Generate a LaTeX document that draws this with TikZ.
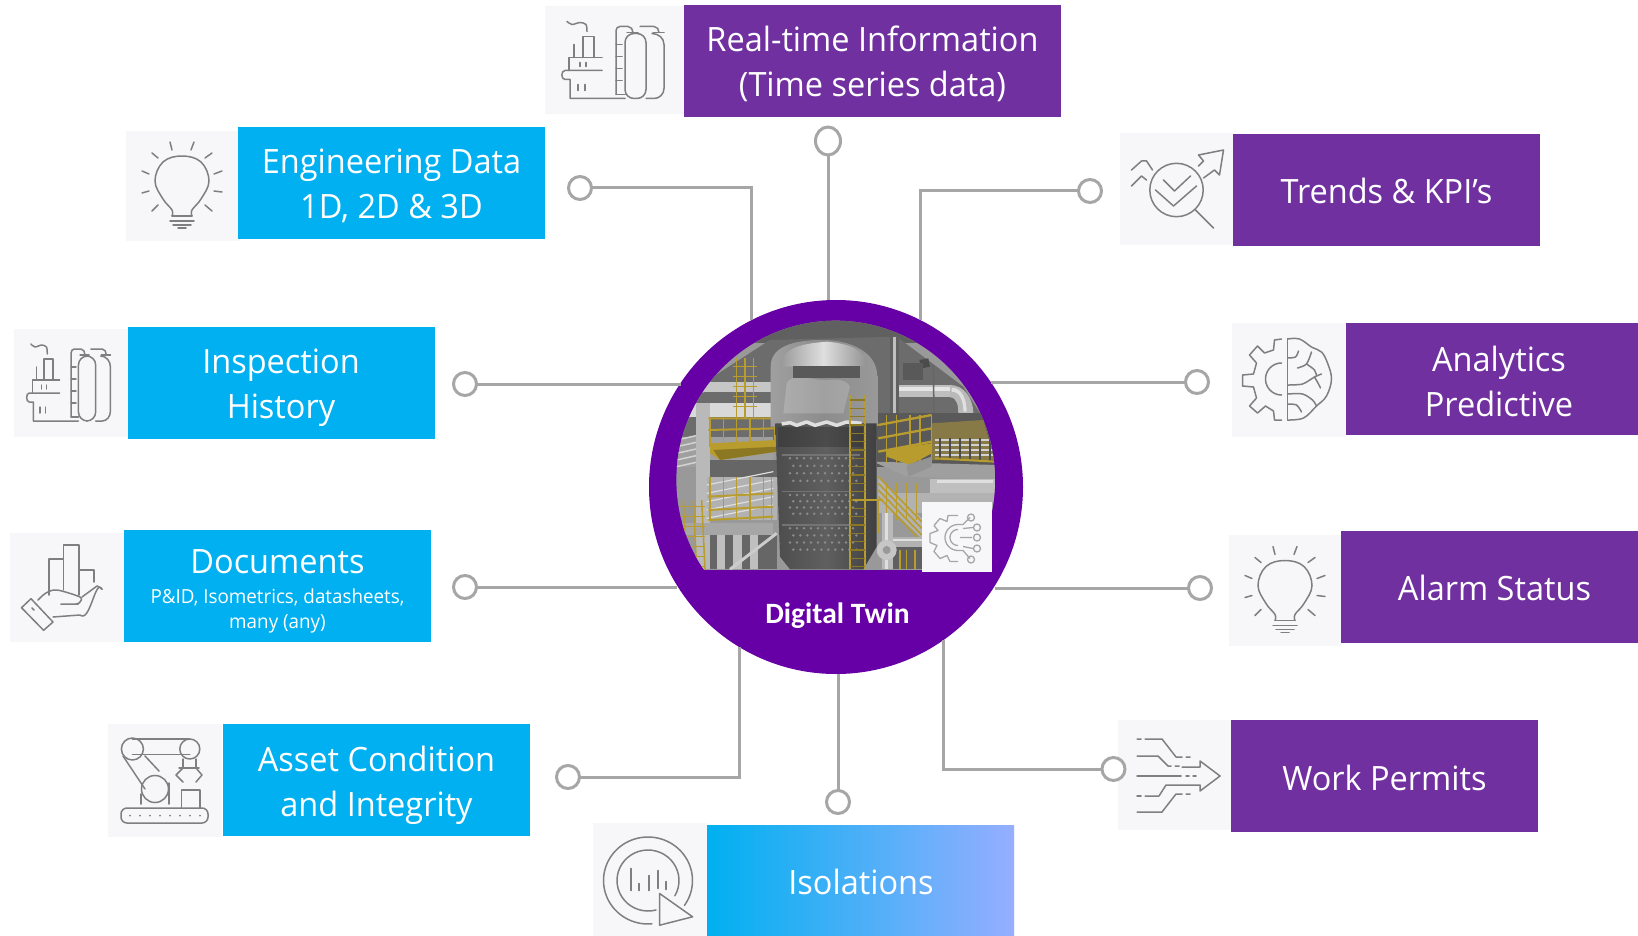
\documentclass[tikz,border=0pt]{standalone}
\usepackage{fontspec}
\usetikzlibrary{shapes.geometric}
\setmainfont{Open Sans}
\newfontfamily\boxfont[FakeStretch=0.97]{Open Sans}
\newfontfamily\capfont{Carlito}
\definecolor{cblue}{HTML}{00B0F0}
\definecolor{cblueend}{HTML}{96AEFF}
\definecolor{cpurple}{HTML}{7030A0}
\definecolor{chub}{HTML}{6600A6}
\definecolor{cicon}{HTML}{F7F7F9}
\definecolor{cline}{HTML}{A6A6A6}
\definecolor{cink}{HTML}{7F7F7F}
\definecolor{cyel}{HTML}{B89C2E}
\definecolor{cyeld}{HTML}{8C7722}
\tikzset{
  bigtext/.style={font=\boxfont\fontsize{33.5}{45}\selectfont,text=white,inner sep=0pt,align=center},
  box/.style={rectangle,inner sep=0pt,outer sep=0pt},
  bluebox/.style={box,fill=cblue},
  purplebox/.style={box,fill=cpurple},
  iconbg/.style={rectangle,inner sep=0pt,outer sep=0pt,fill=cicon},
  pin/.style={circle,draw=cline,line width=3pt,fill=white,minimum size=23pt,inner sep=0pt,outer sep=0pt},
  wire/.style={draw=cline,line width=3pt},
  ico/.style={draw=cink,line width=1.5pt,line join=round,line cap=round},
  lamp/.pic={
    \draw[ico] plot[smooth,tension=0.65] coordinates {(-10,30)(-10,24)(-19,13)(-27,-5)(-19,-24)(0,-30)(19,-24)(27,-5)(19,13)(10,24)(10,30)};
    \draw[ico] (-10,30)--(10,30) (-12,35)--(12,35) (-9,39)--(9,39) (-4,42)--(4,42);
    \draw[ico] (-12,-44)--(-10,-36) (12,-44)--(9,-36) (-30,-33)--(-24,-28) (30,-33)--(23,-28)
      (-40,-15)--(-33,-12) (40,-15)--(32,-12) (-40,7)--(-33,5) (40,6)--(32,5)
      (-30,25)--(-24,19) (30,25)--(23,19);
  },
  plant/.pic={
    \draw[ico] plot[smooth] coordinates {(-55,-39)(-50,-36)(-42,-38)(-36,-36)(-35,-29)};
    \draw[ico] (-39,-3)--(-39,-24)--(-28,-24)--(-28,-3);
    \draw[ico] (-48,-3)--(-48,-16);
    \draw[ico] (-53,10)--(-53,-3)--(-20,-3);
    \draw[ico] (-20,10)--(-57,10) to[out=180,in=180,looseness=1.2] (-57,19)--(-52,19)--(-52,38)--(3,38);
    \draw[ico] (-6,34)--(-6,-30) to[out=90,in=180] (-2,-34)--(6,-34) to[out=0,in=90] (11,-28);
    \draw[ico] (5,-28)--(16,-28);
    \draw[ico] (-6,-16)--(0,-16) (-6,-4)--(0,-4) (-6,8)--(0,8) (-6,20)--(0,20) (-6,34)--(3,34);
    \draw[ico,rounded corners=9pt] (3,38) rectangle (24,-27);
    \draw[ico] (30,-27) to[out=0,in=90] (42,-16)--(42,28) to[out=-90,in=0] (32,38)--(24,38);
    \draw[ico] (18,-34)--(32,-34) to[out=0,in=90] (37,-28);
    \draw[ico] (31,-28)--(42,-28);
    \draw[ico] (-42,2)--(-42,6) (-36,2)--(-36,6) (-44,24)--(-44,30) (-37,24)--(-37,30);
  },
  trendicon/.pic={
    \draw[ico] (0,1) circle[radius=26.7pt];
    \draw[ico] (19,21)--(37,39);
    \draw[ico] (-13,-9)--(-2,2)--(14,-13);
    \draw[ico] (-21,1)--(-3,17)--(20,-3);
    \draw[ico] (-45,-19)--(-35,-28)--(-30,-28)--(-24,-19);
    \draw[ico] (-45,-3)--(-35,-13)--(-30,-9);
    \draw[ico] (27,-11)--(38,-19)--(43,-14)--(47,-39)--(22,-34)--(27,-28)--(22,-23);
  },
  brainicon/.pic={
    \draw[ico] (-1,-41)--(-1,40);
    \draw[ico] (-7,-41)--(-14,-40)--(-15,-30)--(-24,-27)--(-31,-34)--(-39,-25)--(-32,-17)--(-35,-6)--(-46,-5)--(-46,6)--(-35,7)--(-32,18)--(-39,26)--(-31,33)--(-23,26)--(-15,31)--(-14,40)--(-7,40);
    \draw[ico] plot[smooth,domain=90:270,samples=20,variable=\t] ({-7+16*cos(\t)},{-1-16*sin(\t)});
    \draw[ico] plot[smooth,tension=0.6] coordinates {(-1,-41)(11,-41)(23,-33)(33,-28)(39,-17)(43,-1)(38,16)(28,26)(15,38)(-1,40)};
    \draw[ico] plot[smooth] coordinates {(-1,-22)(7,-23)(10,-29)};
    \draw[ico] plot[smooth] coordinates {(9,-12)(18,-16)(23,-28)};
    \draw[ico] plot[smooth] coordinates {(18,-16)(26,-10)(28,-4)};
    \draw[ico] plot[smooth] coordinates {(-1,5)(14,4)(26,-3)(33,-6)};
    \draw[ico] plot[smooth] coordinates {(26,-3)(30,4)(32,8)};
    \draw[ico] plot[smooth] coordinates {(-1,14)(14,14)(24,20)(28,26)};
    \draw[ico] plot[smooth] coordinates {(-1,24)(8,25)(13,32)};
  },
  flowicon/.pic={
    \draw[ico] (-37,-36)--(-33,-36) (-29,-36)--(-12,-36)--(2,-18)--(8,-18) (12,-18)--(16,-18);
    \draw[ico] (-37,-19)--(-16,-19)--(-6,-9)--(-3,-9) (1,-9)--(5,-9);
    \draw[ico] (8,-8)--(26,-8)--(26,-14)--(46,1)--(26,16)--(26,10)--(-8,10)--(-15,21)--(-29,21);
    \draw[ico] (-37,21)--(-33,21);
    \draw[ico] (-37,1)--(7,1) (12,1)--(15,1) (19,1)--(22,1);
    \draw[ico] (-37,37)--(-12,37)--(2,19)--(8,19) (12,19)--(16,19);
  },
  handicon/.pic={
    \draw[ico] (-18,8)--(-18,-28)--(-3.7,-28)--(-3.7,3);
    \draw[ico] (-3.7,-28)--(-3.7,-42)--(12,-42)--(12,8);
    \draw[ico] (12,-17)--(27,-17)--(27,-5);
    \draw[ico] (-45.5,20.7)--(-36,11.7)--(-14,35)--(-23.4,43.3)--cycle;
    \draw[ico] (-35,21)--(-33,23);
    \draw[ico] plot[smooth,tension=0.5] coordinates {(-29,13)(-21,6)(-10,3)(13,10)(13,15)(9,17)(-6,17)};
    \draw[ico] (-6,17.5)--(11,17.5);
    \draw[ico] (-14,30)--(13,28) to[out=-40,in=120] (35,2) to[out=-60,in=0] (30,-1)--(15,10);
  },
  roboticon/.pic={
    \draw[ico] (-32.6,-31) circle[radius=11pt];
    \draw[ico] (24.8,-31) circle[radius=10pt];
    \draw[ico] (-32.6,-41)--(24.8,-41) (-32.6,-25.7)--(24.8,-25.7);
    \draw[ico] (-42,-24)--(-20,9) (-20,-24)--(-6,-9);
    \draw[ico] (-10,9) circle[radius=13.5pt];
    \draw[ico] (-24,14)--(-24,24) (4,3)--(4,24);
    \draw[ico] (18,-21)--(18,-12) (31,-21)--(31,-12) (14,-12)--(34,-12);
    \draw[ico] (18,-12)--(11,-5)--(18,2) (31,-12)--(37,-5)--(31,2);
    \draw[ico] (16.5,28)--(16.5,10)--(35,10)--(35,28);
    \draw[ico,rounded corners=6pt] (-44,28) rectangle (43,43);
    \foreach \k in {-35,-25,...,35} \fill[cink] (\k,35.5) circle[radius=1pt];
  },
  cycleicon/.pic={
    \draw[ico] plot[smooth,domain=85:395,samples=40,variable=\t] ({-2+44.5*cos(\t)},{1+43.5*sin(\t)});
    \draw[ico] plot[smooth,domain=75:390,samples=40,variable=\t] ({-2+31*cos(\t)},{1+30.5*sin(\t)});
    \draw[ico] (9.6,14)--(42.6,37.3)--(9.6,45.7)--cycle;
    \draw[ico] (-19,-11)--(-19,11) (-11,4)--(-11,11) (-1,-4)--(-1,11) (8,-9)--(8,9) (16,2)--(16,10);
  },
  twinicon/.pic={
    \draw[line width=1.3pt,cline,line join=round] (1,-21)--(-9,-21)--(-10,-15)--(-17,-18)--(-23,-11)--(-19,-6)--(-27,-3)--(-27,6)--(-20,9)--(-23,15)--(-17,22)--(-10,19)--(-7,25)--(1,25);
    \draw[line width=1.3pt,cline] plot[smooth,domain=90:270,samples=16,variable=\t] ({1+13*cos(\t)},{1-13*sin(\t)});
    \draw[line width=1.3pt,cline] plot[smooth,domain=90:270,samples=16,variable=\t] ({1+8*cos(\t)},{1-8*sin(\t)});
    \draw[line width=1.3pt,cline] (1,-12)--(6,-12)--(13,-19) (6,-8)--(16,-9) (3,1)--(15,1) (6,10)--(16,12) (1,14)--(6,14)--(13,22);
    \draw[line width=1.3pt,cline] (14,-19) circle[radius=3.5pt] (20,-9) circle[radius=3.5pt] (20,1) circle[radius=3.5pt] (20,12) circle[radius=3.5pt] (14,23) circle[radius=3.5pt];
  },
}
\begin{document}
\begin{tikzpicture}[x=1pt,y=-1pt]
\useasboundingbox (0,0) rectangle (1638,936);
\fill[white] (0,0) rectangle (1638,936);

% hub
\node[circle,fill=chub,minimum size=374pt,inner sep=0pt,outer sep=0pt] (hub) at (836,487) {};

% photo
\begin{scope}[shift={(630,280)},x=0.33333pt,y=-0.33333pt]
\clip (617,600) circle[radius=159.3pt];
\clip (0,0) rectangle (1200,868);
\fill[gray!80] (0,0) rectangle (1200,1200);
% top band and roof
\fill[gray!75!black] (100,100) rectangle (1100,190);
\fill[gray!85!black] (250,290) -- (420,180) -- (800,170) -- (1000,320) -- (1100,480) -- (140,480) -- cycle;
% left structures
\fill[gray!30] (140,370) rectangle (430,410);
\fill[gray!45] (215,305) rectangle (430,335);
\fill[gray!85!black] (140,340) rectangle (430,370);
\fill[gray!75] (140,470) rectangle (430,560);
\foreach \y in {480,500,...,560} \draw[gray!35,line width=1.5pt] (140,\y)--(230,\y-20);
\fill[gray!55] (198,370) rectangle (240,868);
\fill[gray!80!black] (240,540) rectangle (440,600);
\fill[gray!60] (230,590) rectangle (440,720);
\foreach \y in {600,625,...,700} \draw[gray!25,line width=1.2pt] (230,\y+15)--(430,\y-25);
\fill[gray!70] (140,730) rectangle (430,765);
\fill[gray!80!black] (240,765) rectangle (440,868);
\foreach \x in {260,310,360} \fill[gray!50] (\x,765) rectangle (\x+25,868);
\draw[gray!40,line width=3pt] (300,868)--(440,760);
% left ladder top and yellow platforms
\foreach \x in {320,345,370} \draw[cyel,line width=1.6pt] (\x,235)--(\x,415);
\foreach \y in {260,290,...,400} \draw[cyel,line width=1pt] (310,\y)--(380,\y);
\draw[cyel,line width=2pt] (235,415)--(440,415) (235,450)--(440,445);
\foreach \x in {240,280,320,360,400,435} \draw[cyel,line width=1.4pt] (\x,415)--(\x,500);
\fill[cyel] (240,490)--(440,480)--(440,515)--(270,540)--(240,520)--cycle;
\fill[cyeld] (250,510)--(440,500)--(440,515)--(270,540)--cycle;
\draw[cyel,line width=2pt] (235,650)--(430,640) (235,690)--(430,680) (235,720)--(430,710);
\foreach \x in {240,280,320,360,400,425} \draw[cyel,line width=1.4pt] (\x,590)--(\x,720);
\foreach \x in {160,190,215} \draw[cyel,line width=1.5pt] (\x,660)--(\x+10,868);
\foreach \y in {680,710,...,860} \draw[cyel,line width=1pt] (150,\y)--(225,\y);
% right pipes
\fill[gray!50] (800,315) rectangle (960,352);
\fill[gray!20] (800,322) rectangle (960,332);
\fill[gray!55] (960,315) to[out=0,in=90] (1030,400) -- (1030,440) -- (980,440) -- (985,400) to[out=90,in=0] (960,352) -- cycle;
\fill[gray!25] (965,323) to[out=0,in=90] (1010,395) -- (1000,395) to[out=90,in=0] (965,335) -- cycle;
\fill[gray!75!black] (780,170) rectangle (806,410);
\fill[gray!50] (790,170) rectangle (798,410);
\draw[black!60,line width=1.5pt] (910,255)--(912,400);
\fill[black!70] (868,240)--(895,235)--(900,260)--(875,265)--cycle;
\fill[gray!70!black] (820,250) rectangle (880,300);
\fill[gray!70!black] (740,400) rectangle (1095,560);
\fill[cyeld!60!gray] (905,430)--(1060,420)--(1095,540)--(905,540)--cycle;
\foreach \y in {480,495,...,535} \draw[gray!35,line width=2.5pt] (915,\y)--(1095,\y);
\foreach \x in {930,960,...,1080} \draw[gray!60!black,line width=1.5pt] (\x,475)--(\x,540);
\draw[cyel,line width=2pt] (915,535)--(1095,545);
\fill[gray!75] (730,545) -- (1100,555) -- (1100,600) -- (830,590) -- cycle;
\fill[gray!50] (900,598) rectangle (1100,640);
\fill[gray!25] (920,600) rectangle (1090,610);
\fill[gray!60] (745,640) rectangle (1100,700);
% right platform
\foreach \y in {425,465,505} \draw[cyel,line width=2.3pt] (745,\y+10)--(905,\y-20);
\foreach \x in {770,800,840,870,905} \draw[cyel,line width=1.6pt] (\x,405)--(\x,550);
\fill[cyel] (770,510)--(905,490)--(905,520)--(840,555)--(770,530)--cycle;
\fill[gray!85] (830,555)--(905,530)--(905,560)--(835,590)--cycle;
% stair
\fill[gray!60] (745,590)--(880,720)--(880,780)--(745,650)--cycle;
\foreach \k in {0,20,40,60} \draw[cyel,line width=1.6pt] (745,590+\k)--(875,725+\k);
\foreach \x in {770,800,830,860} \draw[cyel,line width=1pt] (\x,610)--(\x,720);
% bottom right pipes
\fill[gray!55] (755,700) rectangle (790,868);
\fill[gray!25] (765,700) rectangle (775,868);
\fill[gray!60] (790,770) rectangle (880,800);
\fill[gray!25] (790,776) rectangle (880,784);
\fill[gray!75!black] (790,800) rectangle (880,868);
\fill[gray!45] (770,810) circle[radius=10pt];
\fill[gray!80] (770,810) circle[radius=4pt];
\foreach \x in {810,830,855} \draw[cyel,line width=1.2pt] (\x,810)--(\x,868);
% column
\path[left color=gray!75,right color=gray!80,middle color=gray!90] (422,260) to[out=90,in=180] (580,180) to[out=0,in=90] (742,290) -- (742,440) -- (422,440) -- cycle;
\path[left color=gray!80,right color=gray!85,middle color=gray!25] (450,260) to[out=85,in=185] (590,185) to[out=-5,in=90] (710,260) -- cycle;
\fill[white,opacity=0.18] (470,310) to[out=60,in=180] (580,300) to[out=0,in=120] (660,320) -- (640,400) to[out=180,in=0] (460,400) -- cycle;
\fill[gray!70!black] (490,258) rectangle (690,295);
\path[left color=gray!60!black,right color=gray!50!black,middle color=gray!75!black] (436,430) -- (740,430) -- (740,800) -- (700,868) -- (480,868) -- (450,830) -- cycle;
\fill[gray!30!black,opacity=0.35] (445,440) rectangle (700,500);
\draw[gray!25,line width=3.5pt,line join=round] (455,432) -- (480,428) -- (500,436) -- (530,426) -- (555,436) -- (590,426) -- (620,436) -- (650,426) -- (695,430);
\foreach \a/\b in {535/625,645/720,745/830}
  \foreach \y in {0,1,2,3} \foreach \x in {0,...,9}
    \fill[gray!90] ({480+\x*21+10*mod(\y,2)},{\a+\y*(\b-\a)/4}) circle[radius=1.4pt];
\draw[black!55,line width=1.2pt] (455,525)--(690,525) (455,635)--(690,635) (455,735)--(690,735);
% column ladder
\foreach \x in {660,706} \draw[cyel,line width=2.3pt] (\x,345)--(\x,868);
\foreach \y in {360,385,...,868} \draw[cyeld,line width=1.1pt] (660,\y)--(706,\y);
\draw[cyel,line width=2.2pt] (670,660)--(760,660) (745,660)--(745,760);
\end{scope}

\node[rectangle,fill=cicon,minimum width=70pt,minimum height=70pt,inner sep=0pt] (twinbg) at (957,536.5) {};
\pic at (twinbg) {twinicon};
\node[font=\capfont\bfseries\fontsize{29.5}{32}\selectfont,text=white,inner sep=0pt] (twin) at (837.5,616) {Digital Twin};

% icon tiles
\node[iconbg,minimum width=139pt,minimum height=108pt] (iR) at (614.5,60.5) {};
\node[iconbg,minimum width=113pt,minimum height=110pt] (iE) at (182,186) {};
\node[iconbg,minimum width=115pt,minimum height=108pt] (iI) at (71,383) {};
\node[iconbg,minimum width=114pt,minimum height=109pt] (iD) at (67,587) {};
\node[iconbg,minimum width=114pt,minimum height=113pt] (iA) at (165,780) {};
\node[iconbg,minimum width=114pt,minimum height=113pt] (iS) at (650,879.5) {};
\node[iconbg,minimum width=113pt,minimum height=111pt] (iT) at (1176.5,189) {};
\node[iconbg,minimum width=114pt,minimum height=114pt] (iN) at (1288.5,380) {};
\node[iconbg,minimum width=113pt,minimum height=111pt] (iL) at (1285,590.5) {};
\node[iconbg,minimum width=113pt,minimum height=110pt] (iW) at (1174,775) {};

\pic at ([xshift=7.5pt]iR) {plant};
\pic at (iE) {lamp};
\pic[xscale=0.82] at ([xshift=5pt]iI) {plant};
\pic at (iD) {handicon};
\pic at (iA) {roboticon};
\pic at (iS) {cycleicon};
\pic at (iT) {trendicon};
\pic at (iN) {brainicon};
\pic at (iL) {lamp};
\pic at (iW) {flowicon};

% boxes
\node[purplebox,minimum width=377pt,minimum height=112pt] (bR) at (872.5,61) {};
\node[bigtext] (tR) at (872.5,64) {Real-time Information\\(Time series data)};
\node[bluebox,minimum width=307pt,minimum height=112pt] (bE) at (391.5,183) {};
\node[bigtext] (tE) at (391.5,186) {Engineering Data\\1D, 2D \& 3D};
\node[bluebox,minimum width=307pt,minimum height=112pt] (bI) at (281,383) {};
\node[bigtext] (tI) at (281,388) {Inspection\\History};
\node[bluebox,minimum width=307pt,minimum height=112pt] (bD) at (277,586) {};
\node[bigtext] (tD1) at (277.5,562) {Documents};
\node[text=white,inner sep=0pt,align=center,font=\boxfont\fontsize{19.4}{25}\selectfont] (tD2) at (277.5,611) {P\&ID, Isometrics, datasheets,\\many (any)};
\node[bluebox,minimum width=307pt,minimum height=112pt] (bA) at (376,780) {};
\node[bigtext] (tA) at (376.5,785) {Asset Condition\\and Integrity};
\node[box,minimum width=307pt,minimum height=111pt,left color=cblue,right color=cblueend] (bS) at (860.5,880.5) {};
\node[bigtext] (tS) at (861,882) {Isolations};
\node[purplebox,minimum width=307pt,minimum height=112pt] (bT) at (1386.5,190) {};
\node[bigtext] (tT) at (1386.5,191) {Trends \& KPI’s};
\node[purplebox,minimum width=307pt,minimum height=112pt] (bN) at (1499,379) {};
\node[bigtext] (tN) at (1499,381) {Analytics\\Predictive};
\node[purplebox,minimum width=307pt,minimum height=112pt] (bL) at (1494.5,587) {};
\node[bigtext] (tL) at (1494.5,588) {Alarm Status};
\node[purplebox,minimum width=307pt,minimum height=112pt] (bW) at (1384.5,776) {};
\node[bigtext] (tW) at (1384.5,777.5) {Work Permits};

% pins
\node[pin] (pE) at (580,188) {};
\node[pin,ellipse,minimum height=28pt,minimum width=25pt] (pR) at (828,141) {};
\node[pin] (pT) at (1090,191) {};
\node[pin] (pI) at (465,384) {};
\node[pin] (pN) at (1197,382) {};
\node[pin] (pD) at (465,587) {};
\node[pin] (pL) at (1200,588) {};
\node[pin] (pA) at (568,777) {};
\node[pin] (pS) at (838,802) {};
\node[pin] (pW) at (1113.5,769) {};

% connectors
\draw[wire] (pE) -| (hub.117.5);
\draw[wire] (pR) -- (pR |- hub.92.5);
\draw[wire] (pT) -| (hub.63.65);
\draw[wire] (pI) -- (pI -| hub.146.6);
\draw[wire] (pN) -- (pN -| hub.34);
\draw[wire] (pD) -- (pD -| hub.212.3);
\draw[wire] (pL) -- (pL -| hub.-32.4);
\draw[wire] (pA) -| (hub.239.1);
\draw[wire] (pS) -- (pS |- hub.270.5);
\draw[wire] (pW) -| (hub.-55.1);
\end{tikzpicture}
\end{document}
